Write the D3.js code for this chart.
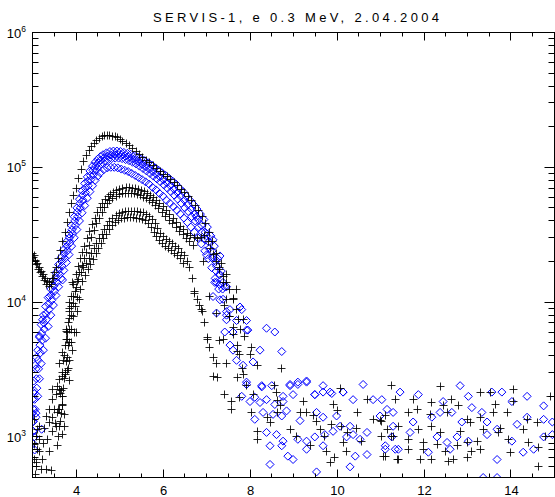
<!DOCTYPE html>
<html><head><meta charset="utf-8">
<script src="https://cdn.jsdelivr.net/npm/d3@7"></script>
<style>
body{margin:0;background:#fff}
svg{display:block}
text{font-family:"Liberation Sans",Arial,Helvetica,sans-serif;fill:#000}
</style>
</head><body>
<svg id="chart" width="555" height="497"></svg>
<script>
// ---------------- data ----------------
const titleText = "SERVIS-1, e 0.3 MeV, 2.04.2004";
const xDomain = [3, 15];
const yDomain = [500, 1e6];
const xMajorTicks = [4, 6, 8, 10, 12, 14];
const xMinorTicks = [3.5, 4.5, 5, 5.5, 6.5, 7, 7.5, 8.5, 9, 9.5, 10.5, 11, 11.5, 12.5, 13, 13.5, 14.5];
const yMajorTicks = [1e3, 1e4, 1e5, 1e6];
const yTickBase = "10";
const yTickExps = ["3", "4", "5", "6"];

// black crosses: pass with inner dip and highest peak  [L, flux]
const blackPassA = [[3.00,2.3e4],[3.04,2.2e4],[3.08,2.05e4],[3.12,1.95e4],[3.16,1.8e4],[3.20,1.7e4],[3.25,1.6e4],[3.30,1.5e4],[3.35,1.42e4],[3.40,1.4e4],[3.45,1.5e4],[3.50,1.65e4],[3.55,1.8e4],[3.60,2.1e4],[3.65,2.4e4],[3.70,2.8e4],[3.75,3.3e4],[3.80,3.9e4],[3.85,4.6e4],[3.90,5.4e4],[3.95,6.2e4],[4.00,7.0e4],[4.06,8.2e4],[4.12,9.6e4],[4.18,1.1e5],[4.24,1.22e5],[4.30,1.33e5],[4.36,1.43e5],[4.42,1.51e5],[4.48,1.58e5],[4.54,1.64e5],[4.60,1.68e5],[4.66,1.71e5],[4.72,1.72e5],[4.78,1.72e5],[4.84,1.7e5],[4.90,1.68e5],[4.96,1.65e5],[5.02,1.61e5],[5.08,1.56e5],[5.15,1.51e5],[5.22,1.45e5],[5.30,1.38e5],[5.38,1.31e5],[5.46,1.25e5],[5.54,1.19e5],[5.62,1.13e5],[5.70,1.08e5],[5.78,1.03e5],[5.86,9.8e4],[5.94,9.3e4],[6.02,8.9e4],[6.10,8.5e4],[6.18,8.1e4],[6.26,7.7e4],[6.34,7.3e4],[6.42,6.9e4],[6.50,6.5e4],[6.58,6.1e4],[6.66,5.7e4],[6.74,5.2e4],[6.82,4.8e4],[6.90,4.3e4],[6.98,3.8e4],[7.06,3.3e4],[7.14,2.8e4],[7.22,2.3e4],[7.30,1.8e4],[7.38,1.4e4],[7.46,1.05e4],[7.54,7.8e3],[7.62,5.8e3],[7.72,4.3e3],[7.82,3.2e3]];
const blackPassA2 = [[3.02,2.15e4],[3.06,2.0e4],[3.10,1.9e4],[3.14,1.75e4],[3.18,1.65e4],[3.23,1.55e4],[3.28,1.45e4],[3.33,1.35e4],[3.38,1.3e4],[3.43,1.35e4],[3.48,1.5e4]];

// black crosses: middle passes (peak ~7e4)
const blackPassB = [[3.62,1.6e3],[3.66,2.2e3],[3.70,3.0e3],[3.74,4.0e3],[3.78,5.3e3],[3.82,7.0e3],[3.86,9.0e3],[3.90,1.1e4],[3.95,1.35e4],[4.00,1.6e4],[4.05,1.85e4],[4.10,2.1e4],[4.15,2.35e4],[4.20,2.6e4],[4.26,2.95e4],[4.32,3.35e4],[4.38,3.75e4],[4.44,4.2e4],[4.50,4.6e4],[4.56,5.0e4],[4.62,5.4e4],[4.68,5.75e4],[4.74,6.05e4],[4.80,6.3e4],[4.87,6.55e4],[4.94,6.75e4],[5.01,6.9e4],[5.08,7.0e4],[5.15,7.05e4],[5.22,7.05e4],[5.29,7.0e4],[5.36,6.95e4],[5.43,6.85e4],[5.50,6.75e4],[5.57,6.6e4],[5.64,6.4e4],[5.71,6.2e4],[5.78,5.95e4],[5.85,5.7e4],[5.92,5.4e4],[6.00,5.1e4],[6.08,4.8e4],[6.16,4.5e4],[6.24,4.2e4],[6.32,3.9e4],[6.40,3.65e4],[6.48,3.45e4],[6.56,3.25e4],[6.64,3.1e4],[6.72,3.0e4],[6.80,2.95e4],[6.88,3.0e4],[6.96,3.1e4],[7.04,2.8e4],[7.10,2.5e4],[7.16,2.25e4],[7.22,2.0e4],[7.30,1.75e4],[7.38,1.55e4],[7.46,1.4e4],[7.54,1.25e4],[7.62,1.05e4],[7.68,8.8e3],[7.73,7.4e3],[7.78,6.3e3]];
const blackPassB2 = [[3.66,1.5e3],[3.70,2.0e3],[3.74,2.7e3],[3.78,3.6e3],[3.82,4.8e3],[3.86,6.3e3],[3.90,8.0e3],[3.94,9.8e3],[3.99,1.2e4],[4.04,1.42e4],[4.09,1.65e4],[4.14,1.88e4],[4.19,2.1e4],[4.24,2.35e4],[4.30,2.65e4],[4.36,3.0e4],[4.42,3.4e4],[4.48,3.8e4],[4.54,4.2e4],[4.60,4.6e4],[4.66,5.0e4],[4.72,5.35e4],[4.78,5.65e4],[4.85,5.9e4],[4.92,6.1e4],[4.99,6.25e4],[5.06,6.35e4],[5.13,6.4e4],[5.20,6.4e4],[5.27,6.4e4],[5.34,6.35e4],[5.41,6.25e4],[5.48,6.15e4],[5.55,6.0e4],[5.62,5.85e4],[5.69,5.65e4],[5.76,5.45e4],[5.83,5.2e4],[5.90,4.95e4],[5.98,4.65e4],[6.06,4.35e4],[6.14,4.05e4],[6.22,3.8e4],[6.30,3.55e4],[6.38,3.35e4],[6.46,3.15e4],[6.54,2.95e4],[6.62,2.8e4],[6.70,2.65e4]];

// black crosses: lowest passes (peak ~4.7e4)
const blackPassC = [[3.56,1.2e3],[3.60,1.6e3],[3.64,2.1e3],[3.68,2.8e3],[3.72,3.7e3],[3.76,4.8e3],[3.80,6.0e3],[3.85,7.5e3],[3.90,9.2e3],[3.95,1.1e4],[4.00,1.28e4],[4.06,1.48e4],[4.12,1.65e4],[4.18,1.8e4],[4.24,1.95e4],[4.30,2.1e4],[4.36,2.3e4],[4.42,2.5e4],[4.48,2.7e4],[4.54,2.95e4],[4.60,3.2e4],[4.66,3.45e4],[4.72,3.7e4],[4.78,3.95e4],[4.85,4.2e4],[4.92,4.4e4],[4.99,4.55e4],[5.06,4.65e4],[5.13,4.7e4],[5.20,4.72e4],[5.27,4.72e4],[5.34,4.7e4],[5.41,4.68e4],[5.48,4.65e4],[5.55,4.6e4],[5.62,4.5e4],[5.69,4.35e4],[5.76,4.1e4],[5.82,3.8e4],[5.88,3.5e4],[5.94,3.25e4],[6.00,3.05e4],[6.07,2.9e4],[6.14,2.8e4],[6.21,2.7e4],[6.28,2.6e4],[6.35,2.5e4],[6.42,2.35e4],[6.49,2.2e4],[6.56,2.0e4],[6.62,1.8e4],[6.68,1.5e4],[6.73,1.2e4],[6.79,1.05e4],[6.85,9.5e3],[6.90,8.5e3],[6.96,7.0e3],[7.02,5.5e3],[7.08,4.6e3],[7.15,3.9e3],[7.22,3.5e3]];
const blackPassC2 = [[3.60,1.0e3],[3.64,1.3e3],[3.68,1.75e3],[3.72,2.3e3],[3.76,3.0e3],[3.80,3.9e3],[3.84,5.0e3],[3.89,6.3e3],[3.94,7.8e3],[3.99,9.3e3],[4.04,1.08e4],[4.10,1.25e4],[4.16,1.42e4],[4.22,1.58e4],[4.28,1.74e4],[4.34,1.9e4],[4.40,2.08e4],[4.46,2.28e4],[4.52,2.5e4],[4.58,2.72e4],[4.64,2.95e4],[4.70,3.2e4],[4.76,3.45e4],[4.83,3.7e4],[4.90,3.9e4],[4.97,4.05e4],[5.04,4.15e4],[5.11,4.2e4],[5.18,4.25e4],[5.25,4.25e4],[5.32,4.25e4],[5.39,4.2e4],[5.46,4.15e4],[5.53,4.1e4],[5.60,4.0e4],[5.67,3.85e4],[5.74,3.6e4],[5.80,3.3e4],[5.86,3.05e4],[5.92,2.85e4],[5.99,2.7e4],[6.06,2.6e4],[6.13,2.5e4],[6.20,2.4e4],[6.27,2.3e4],[6.34,2.2e4],[6.41,2.1e4],[6.48,1.95e4]];

// black crosses: low-L scatter
const blackInner = [[3.85,9.9e3],[4.08,1.04e4],[3.85,8.5e3],[4.04,8.5e3],[3.78,6.1e3],[3.79,6.3e3],[3.97,6.0e3],[3.90,5.0e3],[3.69,4.2e3],[3.92,4.4e3],[3.85,3.7e3],[3.62,3.5e3],[3.81,3.1e3],[3.82,3.2e3],[3.85,2.6e3],[3.62,2.66e3],[3.46,2.25e3],[3.62,2.25e3],[3.46,1.89e3],[3.69,1.7e3],[3.39,1.6e3],[3.58,1.52e3],[3.74,1.47e3],[3.46,1.4e3],[3.74,1.19e3],[3.39,1.28e3],[3.62,1.19e3],[3.46,1.09e3],[3.69,1.04e3],[3.16,960],[3.35,960],[3.58,860],[3.16,780],[3.39,780],[3.09,600],[3.32,575],[3.44,560],[3.92,1.4e4],[4.01,6.0e3],[3.81,5.3e3],[3.58,2.35e3],[3.55,2.06e3],[3.32,1.42e3],[3.16,1.2e3],[3.09,1.0e3],[3.12,810],[3.23,680],[3.09,650],[3.05,1.35e3],[3.12,1.14e3],[3.05,880],[3.05,680],[3.21,575],[3.07,527],[3.28,1.15e3],[3.26,900],[3.52,1.25e3],[3.50,1.6e3],[3.70,2.0e3],[3.75,2.9e3]];

// black crosses: outer-edge scatter
const blackScatter = [[6.73,1.16e4],[6.88,8.8e3],[7.08,1.1e4],[7.23,8.3e3],[7.03,5.3e3],[7.38,5.3e3],[6.92,2.0e4],[7.35,1.95e4],[7.46,1.6e4],[7.69,1.23e4],[7.61,1.07e4],[7.42,9.5e3],[7.54,7.8e3],[7.84,7.4e3],[7.61,6.5e3],[7.88,5.6e3],[7.31,5.2e3],[7.72,4.8e3],[8.04,4.6e3],[7.77,4.1e3],[8.00,4.1e3],[8.18,3.4e3],[7.46,3.5e3],[8.73,3.2e3],[7.15,2.8e3],[7.26,2.75e3],[7.72,2.75e3],[7.84,2.9e3],[7.42,2.06e3],[7.92,2.4e3],[8.07,2.06e3],[8.57,2.4e3],[10.07,2.3e3]];

// black crosses: background
const blackTail = [[7.58,1.83e3],[7.58,1.6e3],[7.77,1.97e3],[8.04,1.52e3],[8.18,1.1e3],[8.18,960],[8.41,1.4e3],[8.46,1.29e3],[8.61,2.12e3],[8.64,1.85e3],[8.69,1.7e3],[8.64,1.52e3],[8.92,1.14e3],[9.07,1.0e3],[9.15,1.52e3],[9.22,1.83e3],[9.30,1.52e3],[9.38,860],[9.45,1.43e3],[9.53,1.3e3],[9.61,1.14e3],[9.72,1.0e3],[9.76,780],[9.91,1.74e3],[9.88,1.24e3],[9.84,650],[9.95,700],[10.02,1.56e3],[10.11,1.2e3],[10.14,910],[10.25,1.08e3],[10.22,780],[10.48,1.52e3],[10.45,1.16e3],[10.57,930],[10.69,1.89e3],[10.83,1.35e3],[11.03,1.0e3],[11.06,720],[11.11,1.43e3],[11.26,2.4e3],[11.29,1.0e3],[11.38,680],[11.03,1.3e3],[12.37,2.35e3],[13.29,2.15e3],[13.52,2.15e3],[14.05,2.25e3],[14.91,2.0e3],[11.34,1.89e3],[11.75,1.89e3],[12.18,1.8e3],[12.64,1.89e3],[13.64,1.74e3],[14.05,1.83e3],[11.64,1.52e3],[11.84,1.6e3],[12.14,1.47e3],[12.44,1.7e3],[12.53,1.52e3],[12.79,1.7e3],[12.99,1.35e3],[13.29,1.4e3],[13.59,1.52e3],[13.91,1.52e3],[14.37,1.35e3],[10.99,1.32e3],[11.15,1.14e3],[11.41,1.2e3],[11.87,1.14e3],[12.18,1.2e3],[12.37,1.08e3],[12.83,1.1e3],[13.06,1.29e3],[13.36,1.14e3],[13.76,1.16e3],[14.29,1.14e3],[14.60,1.29e3],[14.79,1.0e3],[11.26,1.0e3],[11.64,960],[11.98,910],[12.30,880],[12.99,910],[13.22,930],[13.71,1.08e3],[13.94,960],[14.40,910],[14.63,830],[11.64,810],[11.98,810],[12.49,780],[12.76,860],[13.10,780],[13.29,810],[13.99,770],[11.11,720],[11.41,680],[11.91,680],[12.18,680],[12.56,660],[12.67,680],[12.99,700],[14.63,600]];

// blue diamonds: four passes
const bluePassA = [[3.00,1.5e3],[3.04,2.2e3],[3.08,3.2e3],[3.12,4.4e3],[3.16,5.6e3],[3.20,6.8e3],[3.25,8.0e3],[3.30,9.3e3],[3.36,1.08e4],[3.42,1.25e4],[3.48,1.45e4],[3.54,1.65e4],[3.60,1.9e4],[3.66,2.15e4],[3.72,2.45e4],[3.78,2.8e4],[3.84,3.2e4],[3.90,3.7e4],[3.96,4.3e4],[4.02,5.0e4],[4.08,5.8e4],[4.14,6.7e4],[4.20,7.6e4],[4.26,8.5e4],[4.32,9.4e4],[4.38,1.02e5],[4.44,1.09e5],[4.50,1.15e5],[4.56,1.2e5],[4.62,1.24e5],[4.70,1.28e5],[4.78,1.31e5],[4.86,1.32e5],[4.94,1.32e5],[5.02,1.31e5],[5.10,1.29e5],[5.18,1.27e5],[5.26,1.25e5],[5.34,1.22e5],[5.42,1.19e5],[5.50,1.16e5],[5.58,1.12e5],[5.66,1.08e5],[5.74,1.04e5],[5.82,9.9e4],[5.90,9.5e4],[5.98,9.1e4],[6.06,8.7e4],[6.14,8.3e4],[6.22,7.9e4],[6.30,7.5e4],[6.38,7.0e4],[6.46,6.6e4],[6.54,6.1e4],[6.62,5.7e4],[6.70,5.3e4],[6.78,4.9e4],[6.86,4.5e4],[6.94,4.1e4],[7.02,3.6e4],[7.10,3.1e4],[7.18,2.6e4],[7.26,2.1e4],[7.34,1.7e4],[7.42,1.3e4]];
const bluePassB = [[3.01,1.3e3],[3.05,1.9e3],[3.09,2.7e3],[3.13,3.7e3],[3.17,4.8e3],[3.21,5.9e3],[3.26,7.0e3],[3.31,8.2e3],[3.37,9.7e3],[3.43,1.13e4],[3.49,1.32e4],[3.55,1.52e4],[3.61,1.75e4],[3.67,2.0e4],[3.73,2.28e4],[3.79,2.6e4],[3.85,3.0e4],[3.91,3.45e4],[3.97,4.0e4],[4.03,4.65e4],[4.09,5.4e4],[4.15,6.2e4],[4.21,7.0e4],[4.27,7.9e4],[4.33,8.7e4],[4.39,9.5e4],[4.45,1.02e5],[4.51,1.08e5],[4.57,1.13e5],[4.65,1.18e5],[4.73,1.21e5],[4.81,1.23e5],[4.89,1.24e5],[4.97,1.24e5],[5.05,1.23e5],[5.13,1.21e5],[5.21,1.19e5],[5.29,1.16e5],[5.37,1.13e5],[5.45,1.09e5],[5.53,1.05e5],[5.61,1.01e5],[5.69,9.7e4],[5.77,9.3e4],[5.85,8.9e4],[5.93,8.5e4],[6.01,8.1e4],[6.09,7.7e4],[6.17,7.3e4],[6.25,6.9e4],[6.33,6.5e4],[6.41,6.1e4],[6.49,5.7e4],[6.57,5.3e4],[6.65,4.9e4],[6.73,4.5e4],[6.81,4.1e4],[6.89,3.7e4],[6.97,3.3e4],[7.05,2.8e4],[7.13,2.4e4],[7.21,2.0e4],[7.29,1.6e4],[7.37,1.25e4]];
const bluePassC = [[3.02,1.1e3],[3.06,1.6e3],[3.10,2.3e3],[3.14,3.2e3],[3.18,4.2e3],[3.22,5.2e3],[3.27,6.3e3],[3.32,7.4e3],[3.38,8.8e3],[3.44,1.03e4],[3.50,1.2e4],[3.56,1.4e4],[3.62,1.6e4],[3.68,1.85e4],[3.74,2.1e4],[3.80,2.4e4],[3.86,2.75e4],[3.92,3.2e4],[3.98,3.7e4],[4.04,4.3e4],[4.10,5.0e4],[4.16,5.7e4],[4.22,6.5e4],[4.28,7.3e4],[4.34,8.1e4],[4.40,8.8e4],[4.46,9.5e4],[4.52,1.01e5],[4.58,1.06e5],[4.66,1.11e5],[4.74,1.14e5],[4.82,1.16e5],[4.90,1.17e5],[4.98,1.17e5],[5.06,1.16e5],[5.14,1.14e5],[5.22,1.12e5],[5.30,1.09e5],[5.38,1.06e5],[5.46,1.02e5],[5.54,9.8e4],[5.62,9.4e4],[5.70,9.0e4],[5.78,8.6e4],[5.86,8.2e4],[5.94,7.8e4],[6.02,7.4e4],[6.10,7.0e4],[6.18,6.6e4],[6.26,6.2e4],[6.34,5.8e4],[6.42,5.4e4],[6.50,5.0e4],[6.58,4.7e4],[6.66,4.3e4],[6.74,4.0e4],[6.82,3.6e4],[6.90,3.3e4],[6.98,2.9e4],[7.06,2.5e4],[7.14,2.1e4],[7.22,1.7e4],[7.30,1.35e4],[7.38,1.05e4],[7.46,8.0e3]];
const bluePassD = [[3.04,1.0e3],[3.08,1.4e3],[3.12,2.0e3],[3.16,2.7e3],[3.20,3.5e3],[3.25,4.4e3],[3.30,5.4e3],[3.36,6.6e3],[3.42,8.0e3],[3.48,9.5e3],[3.54,1.12e4],[3.60,1.3e4],[3.66,1.5e4],[3.72,1.72e4],[3.78,1.97e4],[3.84,2.25e4],[3.90,2.6e4],[3.96,3.0e4],[4.02,3.45e4],[4.08,4.0e4],[4.14,4.6e4],[4.20,5.2e4],[4.26,5.9e4],[4.32,6.6e4],[4.38,7.3e4],[4.44,8.0e4],[4.50,8.6e4],[4.56,9.1e4],[4.64,9.6e4],[4.72,9.9e4],[4.80,1.0e5],[4.88,1.0e5],[4.96,9.9e4],[5.04,9.7e4],[5.12,9.5e4],[5.20,9.3e4],[5.28,9.0e4],[5.36,8.7e4],[5.44,8.4e4],[5.52,8.1e4],[5.60,7.8e4],[5.68,7.5e4],[5.76,7.1e4],[5.84,6.8e4],[5.92,6.4e4],[6.00,6.1e4],[6.08,5.7e4],[6.16,5.4e4],[6.24,5.1e4],[6.32,4.8e4],[6.40,4.5e4],[6.48,4.2e4],[6.56,3.9e4],[6.64,3.6e4],[6.72,3.3e4],[6.80,3.0e4],[6.88,2.7e4],[6.96,2.4e4],[7.04,2.1e4],[7.12,1.8e4],[7.20,1.5e4],[7.28,1.25e4]];

// blue diamonds: low-L scatter
const blueInner = [[3.00,900],[3.01,1.1e3],[3.02,1.3e3],[3.00,1.9e3],[3.03,2.6e3],[3.06,3.4e3],[3.02,1.6e3],[3.05,800],[3.09,3.9e3],[3.16,5.5e3],[3.23,7.4e3],[3.39,1.1e4],[3.69,1.46e4],[3.05,2.1e3],[3.21,1.14e3],[3.08,1.5e3]];

// blue diamonds: outer-edge scatter
const blueScatter = [[6.77,4.3e4],[7.00,3.1e4],[7.15,2.9e4],[7.31,2.2e4],[7.31,1.6e4],[7.23,1.4e4],[7.46,1.3e4],[7.31,1.04e4],[7.54,8.8e3],[7.77,9.2e3],[7.46,7.4e3],[7.69,7.3e3],[7.92,7.3e3],[7.42,6.0e3],[7.61,6.0e3],[7.92,6.2e3],[8.38,6.4e3],[8.57,6.0e3],[7.00,2.24e4],[7.15,2.15e4],[7.23,1.85e4],[7.19,1.4e4],[7.38,1.4e4],[7.15,1.1e4],[7.23,8.3e3],[7.46,8.5e3],[7.81,8.8e3],[7.95,6.2e3],[7.54,4.8e3],[7.61,4.4e3],[8.23,4.4e3],[8.73,4.3e3],[7.69,3.7e3],[7.84,3.4e3],[8.07,3.6e3],[7.92,2.55e3],[8.27,2.35e3],[8.92,2.4e3],[9.10,2.45e3],[9.30,2.55e3],[9.68,2.4e3],[9.88,2.1e3],[9.49,2.06e3],[7.81,2.0e3],[8.76,2.0e3],[10.14,2.15e3]];

// blue diamonds: background
const blueTail = [[7.92,2.45e3],[8.27,2.4e3],[8.50,2.4e3],[8.92,2.45e3],[9.10,2.55e3],[9.30,2.6e3],[8.00,1.83e3],[8.11,1.97e3],[8.23,1.8e3],[8.38,1.89e3],[8.57,1.74e3],[8.76,1.83e3],[8.99,2.06e3],[9.49,2.06e3],[9.68,2.15e3],[9.84,2.15e3],[10.14,2.15e3],[10.37,1.89e3],[10.60,2.45e3],[10.83,1.89e3],[11.03,1.89e3],[11.15,1.6e3],[11.29,1.52e3],[8.11,1.35e3],[8.30,1.52e3],[8.53,1.47e3],[8.73,1.43e3],[8.84,1.56e3],[9.15,1.32e3],[9.53,1.52e3],[9.68,1.4e3],[9.99,1.43e3],[10.07,1.2e3],[10.30,1.2e3],[10.37,1.04e3],[10.69,1.08e3],[10.99,1.43e3],[11.29,1.2e3],[8.38,1.08e3],[8.61,1.04e3],[8.76,930],[9.10,960],[9.30,930],[9.49,1.0e3],[9.72,1.04e3],[9.91,1.1e3],[10.22,1.0e3],[10.53,960],[8.46,860],[8.73,860],[8.87,720],[8.99,680],[9.30,810],[9.68,860],[10.42,720],[10.69,740],[11.11,860],[8.46,625],[9.53,550],[10.30,600],[11.34,810],[11.45,2.15e3],[11.87,2.06e3],[12.44,1.83e3],[12.83,2.4e3],[13.02,2.0e3],[13.56,2.15e3],[13.79,2.15e3],[14.37,2.0e3],[14.02,1.83e3],[14.75,1.7e3],[11.75,1.29e3],[12.18,1.4e3],[12.37,1.52e3],[12.64,1.52e3],[13.10,1.65e3],[13.33,1.52e3],[12.87,1.29e3],[13.45,1.29e3],[14.14,1.24e3],[14.37,1.4e3],[14.75,1.35e3],[14.95,1.29e3],[11.26,1.0e3],[11.41,810],[11.68,1.08e3],[12.10,770],[12.30,1.0e3],[12.60,810],[12.76,1.0e3],[13.02,930],[13.45,1.04e3],[13.68,1.14e3],[14.02,930],[14.28,770],[14.52,810],[14.95,1.04e3],[11.11,810],[12.53,910],[13.68,680],[13.36,500],[13.68,500],[14.75,1.0e3]];

const blueSeries = [bluePassA, bluePassB, bluePassC, bluePassD, blueInner, blueScatter, blueTail];
const blackSeries = [blackPassA, blackPassA2, blackPassB, blackPassB2, blackPassC, blackPassC2, blackInner, blackScatter, blackTail];

// ---------------- drawing ----------------
const plot = {left: 32.5, right: 554.5, top: 32.5, bottom: 477.5};
const svg = d3.select("#chart");

const x = d3.scaleLinear().domain(xDomain).range([plot.left, plot.right]);
const y = d3.scaleLog().domain(yDomain).range([plot.bottom, plot.top]);

svg.append("defs").append("clipPath").attr("id", "clip")
  .append("rect").attr("x", plot.left).attr("y", plot.top)
  .attr("width", plot.right - plot.left).attr("height", plot.bottom - plot.top);

const marks = svg.append("g").attr("clip-path", "url(#clip)");
const snap = v => Math.round(v - 0.5) + 0.5;

const diamond = "M0,-4L4,0L0,4L-4,0Z";
const plus = "M-4,0H4M0,-4V4";

blueSeries.forEach(s => {
  marks.append("g").selectAll("path").data(s).join("path")
    .attr("d", diamond)
    .attr("transform", d => `translate(${x(d[0]).toFixed(2)},${y(d[1]).toFixed(2)})`)
    .attr("fill", "none").attr("stroke", "#0000ff").attr("stroke-width", 1);
});
blackSeries.forEach(s => {
  marks.append("g").selectAll("path").data(s).join("path")
    .attr("d", plus)
    .attr("transform", d => `translate(${snap(x(d[0]))},${snap(y(d[1]))})`)
    .attr("fill", "none").attr("stroke", "#000").attr("stroke-width", 1).attr("stroke-opacity", 0.85);
});

// frame
const axes = svg.append("g").attr("stroke", "#000").attr("stroke-width", 1).attr("fill", "none");
axes.append("rect").attr("x", plot.left).attr("y", plot.top)
  .attr("width", plot.right - plot.left).attr("height", plot.bottom - plot.top);

// x ticks (bottom & top)
const xt = [...xMajorTicks.map(v => [v, 8]), ...xMinorTicks.map(v => [v, 4])];
axes.selectAll(".xb").data(xt).join("line").attr("class", "xb")
  .attr("x1", d => snap(x(d[0]))).attr("x2", d => snap(x(d[0])))
  .attr("y1", plot.bottom).attr("y2", d => plot.bottom - d[1]);
axes.selectAll(".xt").data(xt).join("line").attr("class", "xt")
  .attr("x1", d => snap(x(d[0]))).attr("x2", d => snap(x(d[0])))
  .attr("y1", plot.top).attr("y2", d => plot.top + d[1]);

// y ticks (left & right)
const yTicksAll = y.ticks().filter(v => v > yDomain[0] && v < yDomain[1]);
const yt = yTicksAll.map(v => [v, yMajorTicks.includes(v) ? 10 : 6]);
axes.selectAll(".yl").data(yt).join("line").attr("class", "yl")
  .attr("y1", d => snap(y(d[0]))).attr("y2", d => snap(y(d[0])))
  .attr("x1", plot.left).attr("x2", d => plot.left + d[1]);
axes.selectAll(".yr").data(yt).join("line").attr("class", "yr")
  .attr("y1", d => snap(y(d[0]))).attr("y2", d => snap(y(d[0])))
  .attr("x1", plot.right).attr("x2", d => plot.right - d[1]);

// x labels
svg.append("g").selectAll("text").data(xMajorTicks).join("text")
  .attr("x", d => x(d) + 0.5).attr("y", 495)
  .attr("text-anchor", "middle").attr("font-size", 13)
  .text(d => d);

// y labels
const yl = svg.append("g").selectAll("text").data(yMajorTicks).join("text")
  .attr("x", 26).attr("y", d => y(d) + 5)
  .attr("text-anchor", "end").attr("font-size", 13);
yl.append("tspan").text(yTickBase);
yl.append("tspan").attr("font-size", 8.5).attr("dy", -6).text((d, i) => yTickExps[i]);

// title
svg.append("text").attr("x", 153).attr("y", 21.5)
  .attr("font-size", 13).attr("textLength", 286).attr("lengthAdjust", "spacing")
  .text(titleText);
</script>
</body></html>
